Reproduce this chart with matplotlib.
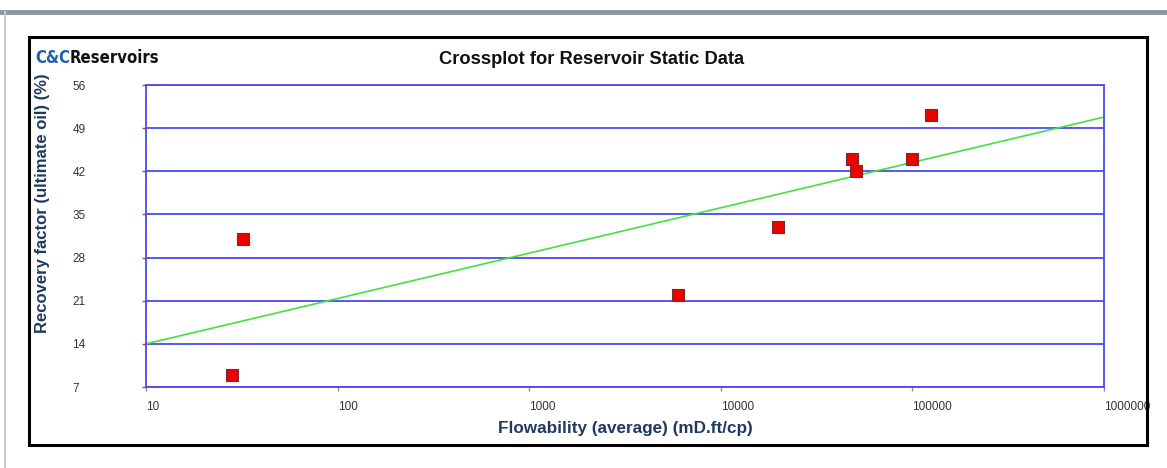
import matplotlib
matplotlib.use("Agg")
import matplotlib.pyplot as plt
from matplotlib.patches import Rectangle
from matplotlib.lines import Line2D

plt.rcParams['font.family'] = ['Liberation Sans', 'DejaVu Sans']

# Data
flowability = [28, 32, 6000, 20000, 48500, 50500, 99000, 125000]
recovery = [8.9, 31.0, 22.0, 33.0, 44.0, 42.0, 44.0, 51.2]
trend_x = [10, 1e6]
trend_y = [14.0, 50.8]
y_ticks = [7, 14, 21, 28, 35, 42, 49, 56]
x_ticks = [10, 100, 1000, 10000, 100000, 1000000]
x_ticklabels = ["10", "100", "1000", "10000", "100000", "1000000"]

W, H = 1167, 468
fig = plt.figure(figsize=(W / 100, H / 100), dpi=100)
fig.patch.set_facecolor('white')

# Decorative frame elements
fig.add_artist(Line2D([0, 1], [1 - 12 / H, 1 - 12 / H], color='#8a96a3', lw=3.5,
                      transform=fig.transFigure))
fig.add_artist(Line2D([5 / W, 5 / W], [0, 1 - 12 / H], color='#c4ccd4', lw=1.5,
                      transform=fig.transFigure))
fig.add_artist(Rectangle((29 / W, 1 - 445 / H), (1147 - 29) / W, (445 - 37) / H,
                         fill=False, edgecolor='black', lw=2.2, transform=fig.transFigure))

ax = fig.add_axes([146 / W, 1 - 387 / H, (1104 - 146) / W, (387 - 85) / H])
ax.set_xscale('log')
ax.set_xlim(10, 1e6)
ax.set_ylim(7, 56)

blue = '#4a4af0'
for y in y_ticks:
    ax.axhline(y, color=blue, lw=1.3, zorder=1)
for s in ax.spines.values():
    s.set_color(blue)
    s.set_linewidth(1.3)

ax.plot(trend_x, trend_y, color='#44e044', lw=1.2, zorder=2)
ax.scatter(flowability, recovery, marker='s', s=70, color='#ee0000',
           edgecolors='#7a2a2a', linewidths=0.8, zorder=3)

ax.set_yticks(y_ticks)
ax.set_yticklabels([str(v) for v in y_ticks])
ax.set_xticks(x_ticks)
ax.set_xticklabels(x_ticklabels)
ax.xaxis.set_minor_locator(matplotlib.ticker.NullLocator())
ax.tick_params(axis='y', colors='#e03030', length=3, width=1, pad=50,
               labelcolor='#333333', labelsize=8.5)
ax.tick_params(axis='x', colors='#8888cc', length=3, width=1, pad=7,
               labelcolor='#333333', labelsize=8.5)
for lbl in ax.get_xticklabels():
    lbl.set_horizontalalignment('left')
for lbl in ax.get_yticklabels():
    lbl.set_horizontalalignment('left')

navy = '#1f3a5f'
fig.text(592 / W, 1 - 60 / H, 'Crossplot for Reservoir Static Data', ha='center', va='center',
         fontsize=13.2, fontweight='bold', color='#111111')
fig.text(625 / W, 1 - 428 / H, 'Flowability (average) (mD.ft/cp)', ha='center', va='center',
         fontsize=12.3, fontweight='bold', color=navy)
fig.text(43 / W, 1 - 203 / H, 'Recovery factor (ultimate oil) (%)', ha='center', va='center',
         rotation=90, fontsize=12, fontweight='bold', color=navy)

# Logo
logo_font = ['DejaVu Sans']
t1 = fig.text(35 / W, 1 - 58 / H, 'C&C', ha='left', va='center', fontsize=12,
              fontweight='bold', fontstretch='condensed', color='#1f5fa8', family=logo_font)
fig.canvas.draw()
bb = t1.get_window_extent()
fig.text(bb.x1 / W, 1 - 58 / H, 'Reservoirs', ha='left', va='center', fontsize=12,
         fontweight='bold', fontstretch='condensed', color='#111111', family=logo_font)

fig.savefig('out.png', dpi=100, facecolor='white')
